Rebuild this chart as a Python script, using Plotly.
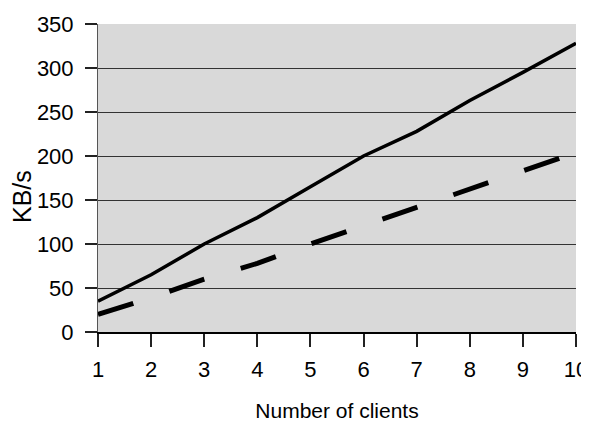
import plotly.graph_objects as go

clients = [1, 2, 3, 4, 5, 6, 7, 8, 9, 10]
solid_vals = [35, 65, 100, 130, 165, 200, 228, 263, 295, 328]
dashed_vals = [20, 39, 60, 78, 100, 121, 142, 163, 183, 204]
y_ticks = [0, 50, 100, 150, 200, 250, 300, 350]

fig = go.Figure()
fig.add_trace(go.Scatter(x=clients, y=solid_vals, mode="lines",
                         line=dict(color="black", width=3.5), showlegend=False))
fig.add_trace(go.Scatter(x=clients, y=dashed_vals, mode="lines",
                         line=dict(color="black", width=5, dash="37px,38px"), showlegend=False))

font = "Liberation Sans, Arial, sans-serif"
L, R, T, B = 90, 21, 16, 99
W, H = 589, 423
pw, ph = W - L - R, H - T - B
fig.update_layout(
    width=W, height=H,
    margin=dict(l=L, r=R, t=T, b=B, autoexpand=False),
    paper_bgcolor="white", plot_bgcolor="#D9D9D9",
    font=dict(family=font, size=22, color="black"),
    xaxis=dict(range=[1, 10], tickvals=clients, ticks="outside", ticklen=13,
               tickcolor="#222", tickwidth=1.5, showgrid=False, showline=True,
               linecolor="black", linewidth=1.5, zeroline=False,
               ticklabelstandoff=4,
               title=dict(text="Number of clients", font=dict(size=21), standoff=22)),
    yaxis=dict(range=[0, 350], tickvals=y_ticks, ticks="outside", ticklen=12,
               tickcolor="#222", tickwidth=1.5, showgrid=True, gridcolor="#333",
               gridwidth=1.2, showline=True, linecolor="#555", linewidth=1,
               zeroline=False, ticklabelstandoff=7),
    annotations=[dict(text="KB/s", textangle=-90, showarrow=False,
                      xref="paper", yref="paper",
                      x=(14 - L) / pw, y=1 - (189 - T) / ph,
                      xanchor="center", yanchor="middle",
                      font=dict(size=25))],
)
fig.write_html("out.html")
